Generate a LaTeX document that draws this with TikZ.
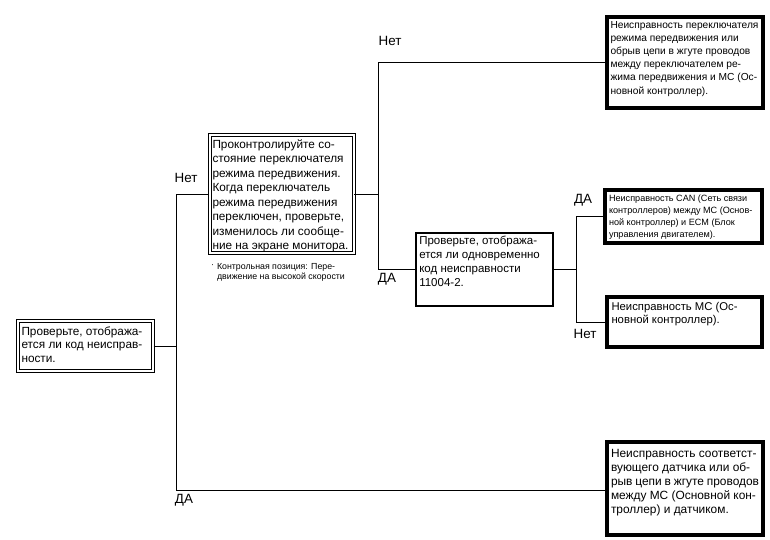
\documentclass[tikz,border=0pt]{standalone}
\usepackage{fontspec}
\setmainfont{Liberation Sans}
\tikzset{
  box/.style 2 args={draw, anchor=north west,
    execute at begin node={\begin{minipage}[t][#2][t]{#1}},
    execute at end node={\end{minipage}}},
  dbox/.style 2 args={box={#1}{#2}, double, line width=1pt, double distance=2pt},
  fbox/.style 2 args={box={#1}{#2}, line width=4pt},
  lbl/.style={font=\fontsize{13.4}{15}\selectfont, inner sep=0pt},
  wire/.style={line width=0.8pt},
}
\begin{document}
\begin{tikzpicture}[x=1pt, y=-1pt]
\useasboundingbox (0,0) rectangle (770,540);
% questions
\node[dbox={128pt}{38pt}, inner xsep=3.5pt, inner ysep=6pt, font=\fontsize{11.8}{13.3}\selectfont] (start) at (17.5,320.5)
  {Проверьте, отобража-\\ется ли код неисправ-\\ности.};
\node[dbox={138pt}{109.5pt}, inner xsep=3pt, inner ysep=4pt, font=\fontsize{11.8}{14.5}\selectfont] (switch) at (209,135)
  {Проконтролируйте со-\\стояние переключателя\\режима передвижения.\\Когда переключатель\\режима передвижения\\переключен, проверьте,\\изменилось ли сообще-\\ние на экране монитора.};
\node[box={130.4pt}{66pt}, line width=2pt, inner xsep=3.3pt, inner ysep=3.5pt, font=\fontsize{11.5}{13.7}\selectfont] (code) at (415,232)
  {Проверьте, отобража-\\ется ли одновременно\\код неисправности\\11004-2.};
\node[anchor=north west, inner sep=0pt, align=left, font=\fontsize{8.8}{10.5}\selectfont] (note) at (211,263)
  {\raisebox{2pt}{·}\,\,Контрольная позиция: Пере-\\\hphantom{·\,\,}движение на высокой скорости};
% results
\node[fbox={149pt}{83pt}, inner xsep=3.5pt, inner ysep=4pt, font=\fontsize{10.2}{13.2}\selectfont] (modesw) at (605,15)
  {Неисправность переключателя\\режима передвижения или\\обрыв цепи в жгуте проводов\\между переключателем ре-\\жима передвижения и МС (Ос-\\новной контроллер).};
\node[fbox={149pt}{43pt}, inner xsep=4pt, inner ysep=5pt, font=\fontsize{9.1}{12}\selectfont] (can) at (603,188)
  {Неисправность CAN (Сеть связи\\контроллеров) между МС (Основ-\\ной контроллер) и ЕСМ (Блок\\управления двигателем).};
\node[fbox={146pt}{39pt}, inner xsep=4.5pt, inner ysep=5.5pt, font=\fontsize{11.3}{13.3}\selectfont] (mc) at (605,295)
  {Неисправность МС (Ос-\\новной контроллер).};
\node[fbox={148pt}{79pt}, inner xsep=4pt, inner ysep=7pt, font=\fontsize{11.9}{14.2}\selectfont] (sensor) at (605,440)
  {Неисправность соответст-\\вующего датчика или об-\\рыв цепи в жгуте проводов\\между МС (Основной кон-\\троллер) и датчиком.};
% branch points
\coordinate (y1) at (176,490);
\coordinate (n2) at (378,0);
\coordinate (n3) at (576,0);
\draw[wire] (start.east) -- (start.east -| y1);
\draw[wire] (switch.west) -| (y1) -- (y1 -| sensor.west);
\draw[wire] (switch.east) -- (switch.east -| n2);
\draw[wire] (modesw.west) -| (n2 |- code.west) -- (code.west);
\draw[wire] (code.east) -- (code.east -| n3);
\draw[wire] (can.west) -| (n3 |- mc.west) -- (mc.west);
% answers
\node[lbl] (no1) at (186,178) {Нет};
\node[lbl] (yes1) at (184,500) {ДА};
\node[lbl] (no2) at (390,41) {Нет};
\node[lbl] (yes2) at (387,279) {ДА};
\node[lbl] (yes3) at (583,200) {ДА};
\node[lbl] (no3) at (585,334) {Нет};
\end{tikzpicture}
\end{document}
